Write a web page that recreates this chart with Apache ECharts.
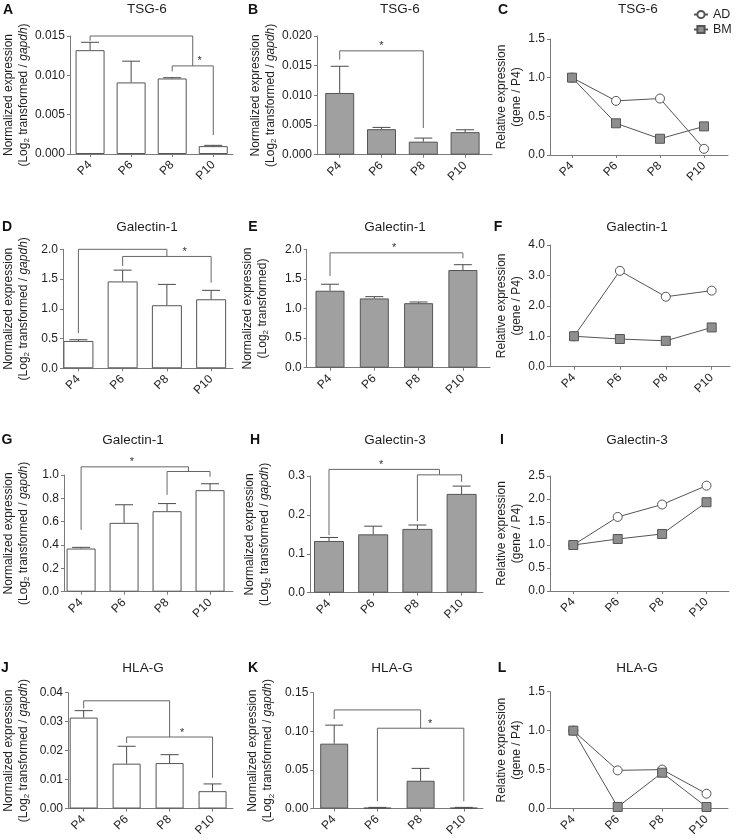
<!DOCTYPE html>
<html>
<head>
<meta charset="utf-8">
<title>TSG-6, Galectin-1, Galectin-3 and HLA-G expression by passage</title>
<script src="https://cdn.jsdelivr.net/npm/echarts@6/dist/echarts.min.js"></script>
<style>
html, body { margin: 0; padding: 0; background: #fff; }
#main { width: 737px; height: 839px; }
</style>
</head>
<body>
<div id="main"></div>
<script>
var passages = ['P4', 'P6', 'P8', 'P10'];

// TSG-6
var tsg6AdMean = [0.0132, 0.0091, 0.0096, 0.0010];
var tsg6AdSem  = [0.0010, 0.0027, 0.0001, 0.0001];
var tsg6BmMean = [0.0104, 0.0043, 0.0022, 0.0038];
var tsg6BmSem  = [0.0045, 0.0003, 0.0006, 0.0004];
var tsg6RelAd  = [1.0, 0.70, 0.73, 0.08];
var tsg6RelBm  = [1.0, 0.41, 0.21, 0.37];

// Galectin-1 (D, E, F)
var gal1AdMean = [0.46, 1.46, 1.06, 1.16];
var gal1AdSem  = [0.02, 0.19, 0.35, 0.15];
var gal1BmMean = [1.30, 1.17, 1.09, 1.65];
var gal1BmSem  = [0.11, 0.03, 0.02, 0.09];
var gal1RelAd  = [1.0, 3.15, 2.30, 2.50];
var gal1RelBm  = [1.0, 0.91, 0.85, 1.29];

// Galectin-1 (G) / Galectin-3 (H, I)
var gal1gAdMean = [0.37, 0.59, 0.69, 0.87];
var gal1gAdSem  = [0.01, 0.155, 0.065, 0.055];
var gal3BmMean  = [0.133, 0.150, 0.164, 0.254];
var gal3BmSem   = [0.009, 0.021, 0.010, 0.020];
var gal3RelAd   = [1.0, 1.61, 1.88, 2.29];
var gal3RelBm   = [1.0, 1.13, 1.24, 1.93];

// HLA-G
var hlagAdMean = [0.0314, 0.0155, 0.0157, 0.0060];
var hlagAdSem  = [0.0024, 0.0060, 0.0029, 0.0025];
var hlagBmMean = [0.084, 0.001, 0.036, 0.001];
var hlagBmSem  = [0.024, 0.0005, 0.016, 0.0005];
var hlagRelAd  = [1.0, 0.49, 0.50, 0.19];
var hlagRelBm  = [1.0, 0.02, 0.46, 0.02];

// significance brackets: [from, to, level, leg end at from, leg end at to]
var bracketsA = [[0, 2.5, 0.0150, 0.0144, 0.0112], [2, 3, 0.0112, 0.0105, 0.0024]];
var bracketsB = [[0, 2, 0.0175, 0.0160, 0.0045]];
var bracketsD = [[0, 2, 2.0, 0.59, 1.88], [1, 3, 1.88, 1.72, 1.44]];
var bracketsE = [[0, 3, 1.94, 1.55, 1.85]];
var bracketsG = [[0, 2.5, 1.07, 0.53, 1.03], [2, 3, 1.03, 0.83, 0.985]];
var bracketsH = [[0, 2.5, 0.317, 0.148, 0.303], [2, 3, 0.303, 0.184, 0.285]];
var bracketsJ = [[0, 2, 0.0372, 0.0346, 0.0247], [1, 3, 0.0247, 0.0226, 0.0106]];
var bracketsK = [[0, 2, 0.1277, 0.116, 0.104], [1, 3, 0.104, 0.0094, 0.0094]];
// stars: [x, level]
var starA = [[2.67, 0.0112]];
var starB = [[1.0, 0.0175]];
var starD = [[2.4, 1.88]];
var starE = [[1.45, 1.94]];
var starG = [[1.18, 1.07]];
var starH = [[1.18, 0.317]];
var starJ = [[2.29, 0.0247]];
var starK = [[2.22, 0.104]];

var font = 'Liberation Sans, Arial, Helvetica, sans-serif';
var axisColor = '#7a7a7a';
var ink = '#4a4a4a';
var textColor = '#1e1e1e';

var nameGapdh = '{n|Normalized expression}\n{n|(Log}{s|2}{n| transformed / }{i|gapdh}{n|)}';
var nameLog = '{n|Normalized expression}\n{n|(Log}{s|2}{n| transformed)}';
var nameRel = '{n|Relative expression}\n{n|(gene / P4)}';

var panels = [
    {letter: 'A', title: 'TSG-6', kind: 'bar', fill: '#ffffff', mean: tsg6AdMean, sem: tsg6AdSem, br: bracketsA, star: starA,
     yMax: 0.015, yStep: 0.005, digits: 3, yName: nameGapdh,
     ax: 67, c0: 87.5, sp: 41.8, xe: 233, top: 36, y0: 154, gap: 37, barW: 29, tx: 147, ty: 9, lx: 8, ly: 10},
    {letter: 'B', title: 'TSG-6', kind: 'bar', fill: '#a0a0a0', mean: tsg6BmMean, sem: tsg6BmSem, br: bracketsB, star: starB,
     yMax: 0.020, yStep: 0.005, digits: 3, yName: nameGapdh,
     ax: 317, c0: 339.7, sp: 41.8, xe: 492, top: 36, y0: 154.7, gap: 37, barW: 29, tx: 400, ty: 9, lx: 253, ly: 10},
    {letter: 'C', title: 'TSG-6', kind: 'line', ad: tsg6RelAd, bm: tsg6RelBm,
     yMax: 1.5, yStep: 0.5, digits: 1, yName: nameRel,
     ax: 550, c0: 572, sp: 44, xe: 728, top: 39, y0: 155, gap: 23, tx: 638, ty: 9, lx: 503, ly: 10},

    {letter: 'D', title: 'Galectin-1', kind: 'bar', fill: '#ffffff', mean: gal1AdMean, sem: gal1AdSem, br: bracketsD, star: starD,
     yMax: 2.0, yStep: 0.5, digits: 1, yName: nameGapdh,
     ax: 62, c0: 77.5, sp: 44.5, xe: 233, top: 249.3, y0: 368.3, gap: 32, barW: 30, tx: 147, ty: 227, lx: 7, ly: 227},
    {letter: 'E', title: 'Galectin-1', kind: 'bar', fill: '#a0a0a0', mean: gal1BmMean, sem: gal1BmSem, br: bracketsE, star: starE,
     yMax: 2.0, yStep: 0.5, digits: 1, yName: nameLog,
     ax: 306.7, c0: 330, sp: 44.3, xe: 490, top: 249.3, y0: 367.7, gap: 37, barW: 29, tx: 395, ty: 227, lx: 253, ly: 227},
    {letter: 'F', title: 'Galectin-1', kind: 'line', ad: gal1RelAd, bm: gal1RelBm,
     yMax: 4.0, yStep: 1.0, digits: 1, yName: nameRel,
     ax: 550, c0: 574, sp: 45.9, xe: 730, top: 245, y0: 366.7, gap: 25, tx: 637, ty: 227, lx: 498, ly: 227},

    {letter: 'G', title: 'Galectin-1', kind: 'bar', fill: '#ffffff', mean: gal1gAdMean, sem: gal1gAdSem, br: bracketsG, star: starG,
     yMax: 1.0, yStep: 0.2, digits: 1, yName: nameGapdh,
     ax: 60, c0: 77.5, sp: 44, xe: 233, top: 475, y0: 591.7, gap: 33, barW: 29, tx: 133, ty: 440, lx: 7, ly: 440},
    {letter: 'H', title: 'Galectin-3', kind: 'bar', fill: '#a0a0a0', mean: gal3BmMean, sem: gal3BmSem, br: bracketsH, star: starH,
     yMax: 0.3, yStep: 0.1, digits: 1, yName: nameGapdh,
     ax: 310, c0: 329, sp: 44.2, xe: 483, top: 476, y0: 592.7, gap: 38, barW: 30, tx: 395, ty: 440, lx: 255, ly: 440},
    {letter: 'I', title: 'Galectin-3', kind: 'line', ad: gal3RelAd, bm: gal3RelBm,
     yMax: 2.5, yStep: 0.5, digits: 1, yName: nameRel,
     ax: 550, c0: 573.3, sp: 44.4, xe: 729, top: 476, y0: 591, gap: 24, tx: 637, ty: 440, lx: 502, ly: 440},

    {letter: 'J', title: 'HLA-G', kind: 'bar', fill: '#ffffff', mean: hlagAdMean, sem: hlagAdSem, br: bracketsJ, star: starJ,
     yMax: 0.04, yStep: 0.01, digits: 2, yName: nameGapdh,
     ax: 66.7, c0: 82.5, sp: 43.3, xe: 233, top: 692.7, y0: 809, gap: 37, barW: 28, tx: 143, ty: 668, lx: 5, ly: 668},
    {letter: 'K', title: 'HLA-G', kind: 'bar', fill: '#a0a0a0', mean: hlagBmMean, sem: hlagBmSem, br: bracketsK, star: starK,
     yMax: 0.15, yStep: 0.05, digits: 2, yName: nameGapdh,
     ax: 313.3, c0: 334.2, sp: 43.2, xe: 483, top: 692.7, y0: 809, gap: 38, barW: 28, tx: 392, ty: 668, lx: 253, ly: 668},
    {letter: 'L', title: 'HLA-G', kind: 'line', ad: hlagRelAd, bm: hlagRelBm,
     yMax: 1.5, yStep: 0.5, digits: 1, yName: nameRel,
     ax: 550, c0: 573.3, sp: 44.4, xe: 728, top: 691.7, y0: 809.3, gap: 24, tx: 637, ty: 668, lx: 502, ly: 668}
];

function renderErr(params, api) {
    var x = api.value(0), m = api.value(1), s = api.value(2);
    var p0 = api.coord([x, m]);
    var p1 = api.coord([x, m + s]);
    var st = {stroke: ink, lineWidth: 1};
    return {type: 'group', children: [
        {type: 'line', shape: {x1: p0[0], y1: p0[1], x2: p1[0], y2: p1[1]}, style: st},
        {type: 'line', shape: {x1: p1[0] - 9, y1: p1[1], x2: p1[0] + 9, y2: p1[1]}, style: st}
    ]};
}

function renderBracket(params, api) {
    var a = api.coord([api.value(0), api.value(3)]);
    var b = api.coord([api.value(0), api.value(2)]);
    var c = api.coord([api.value(1), api.value(2)]);
    var d = api.coord([api.value(1), api.value(4)]);
    return {type: 'polyline', shape: {points: [a, b, c, d]},
        style: {stroke: '#666', lineWidth: 1, fill: null}};
}

function renderStar(params, api) {
    var p = api.coord([api.value(0), api.value(1)]);
    return {type: 'text', x: p[0], y: p[1] + 1,
        style: {text: '*', fill: '#333', font: '11px ' + font,
            align: 'center', verticalAlign: 'bottom', textAlign: 'center', textVerticalAlign: 'bottom'}};
}

var grids = [], xAxes = [], yAxes = [], series = [], graphics = [];

panels.forEach(function (p, i) {
    grids.push({left: p.ax, top: p.top, width: p.xe - p.ax, height: p.y0 - p.top});
    xAxes.push({
        type: 'value', gridIndex: i,
        min: -(p.c0 - p.ax) / p.sp,
        max: 3 + (p.xe - p.c0 - 3 * p.sp) / p.sp,
        splitLine: {show: false},
        axisLine: {show: true, onZero: false, lineStyle: {color: axisColor, width: 1}},
        axisTick: {show: true, customValues: [0, 1, 2, 3], length: 3, lineStyle: {color: axisColor}},
        axisLabel: {
            customValues: [0, 1, 2, 3], rotate: 45, margin: 9,
            fontSize: 12, fontFamily: font, color: textColor,
            formatter: function (v) { return passages[Math.round(v)]; }
        }
    });
    yAxes.push({
        type: 'value', gridIndex: i, min: 0, max: p.yMax, interval: p.yStep,
        splitLine: {show: false},
        axisLine: {show: true, onZero: false, lineStyle: {color: axisColor, width: 1}},
        axisTick: {show: true, length: 3, lineStyle: {color: axisColor}},
        axisLabel: {
            fontSize: 12, fontFamily: font, color: textColor, margin: 5,
            formatter: (function (dg) { return function (v) { return v.toFixed(dg); }; })(p.digits)
        },
        name: p.yName, nameLocation: 'middle', nameRotate: 90, nameGap: p.gap,
        nameTextStyle: {
            fontFamily: font, fontSize: 12, color: textColor, lineHeight: 15,
            rich: {
                n: {fontFamily: font, fontSize: 12, color: textColor, lineHeight: 15},
                s: {fontFamily: font, fontSize: 8, color: textColor, lineHeight: 11, verticalAlign: 'bottom'},
                i: {fontFamily: font, fontSize: 12, color: textColor, lineHeight: 15, fontStyle: 'italic'}
            }
        }
    });

    if (p.kind === 'bar') {
        series.push({
            type: 'bar', xAxisIndex: i, yAxisIndex: i, barWidth: p.barW, silent: true,
            itemStyle: {color: p.fill, borderColor: '#555', borderWidth: 1},
            data: p.mean.map(function (v, k) { return [k, v]; })
        });
        series.push({
            type: 'custom', xAxisIndex: i, yAxisIndex: i, renderItem: renderErr, silent: true, z: 3,
            encode: {x: 0, y: 1},
            data: p.mean.map(function (v, k) { return [k, v, p.sem[k]]; })
        });
        series.push({
            type: 'custom', xAxisIndex: i, yAxisIndex: i, renderItem: renderBracket, silent: true, z: 4,
            encode: {x: [0, 1], y: [2, 3, 4]},
            data: p.br
        });
        series.push({
            type: 'custom', xAxisIndex: i, yAxisIndex: i, renderItem: renderStar, silent: true, z: 4,
            encode: {x: 0, y: 1},
            data: p.star
        });
    } else {
        series.push({
            name: 'AD', type: 'line', xAxisIndex: i, yAxisIndex: i,
            symbol: 'circle', symbolSize: 9,
            lineStyle: {color: '#555', width: 1},
            itemStyle: {color: '#ffffff', borderColor: '#555', borderWidth: 1},
            data: p.ad.map(function (v, k) { return [k, v]; })
        });
        series.push({
            name: 'BM', type: 'line', xAxisIndex: i, yAxisIndex: i,
            symbol: 'rect', symbolSize: 9,
            lineStyle: {color: '#555', width: 1},
            itemStyle: {color: '#8e8e8e', borderColor: '#555', borderWidth: 1},
            data: p.bm.map(function (v, k) { return [k, v]; })
        });
    }

    graphics.push({
        type: 'text', x: p.tx, y: p.ty,
        style: {text: p.title, fill: textColor, font: '13.5px ' + font,
            textAlign: 'center', textVerticalAlign: 'middle', align: 'center', verticalAlign: 'middle'}
    });
    graphics.push({
        type: 'text', x: p.lx, y: p.ly,
        style: {text: p.letter, fill: '#111', font: 'bold 14px ' + font,
            textAlign: 'center', textVerticalAlign: 'middle', align: 'center', verticalAlign: 'middle'}
    });
});

var chart = echarts.init(document.getElementById('main'), null, {renderer: 'canvas'});
chart.setOption({
    animation: false,
    backgroundColor: '#ffffff',
    textStyle: {fontFamily: font},
    grid: grids,
    xAxis: xAxes,
    yAxis: yAxes,
    legend: {
        data: ['AD', 'BM'], orient: 'vertical', left: 693, top: 8, padding: 0,
        itemWidth: 14, itemHeight: 9, itemGap: 2, selectedMode: false,
        textStyle: {fontFamily: font, fontSize: 12.5, color: textColor, lineHeight: 10}
    },
    graphic: graphics,
    series: series
});
</script>
</body>
</html>
